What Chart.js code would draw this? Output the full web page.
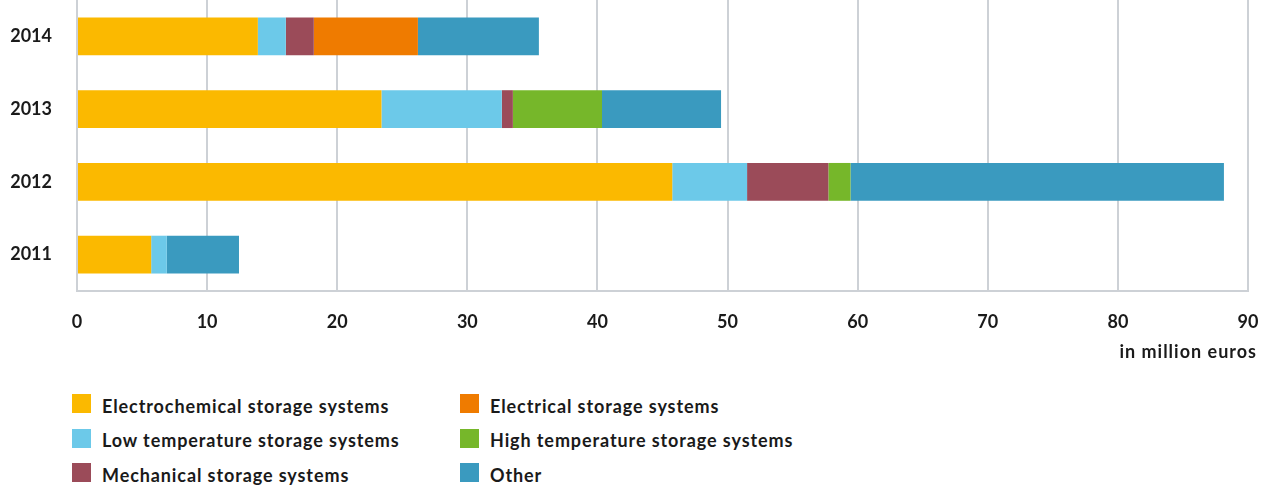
<!DOCTYPE html>
<html>
<head>
<meta charset="utf-8">
<script src="https://cdn.jsdelivr.net/npm/chart.js@4.4.1/dist/chart.umd.min.js"></script>
<style>
  html, body { margin: 0; padding: 0; background: #fff; }
  body { width: 1271px; height: 486px; position: relative; overflow: hidden; font-family: Lato, "Open Sans", sans-serif; color: #1a1a1a; }
  #wrap { position: absolute; left: 0; top: 0; width: 1271px; height: 345px; }
  #unit { position: absolute; right: 14px; top: 340px; font-size: 18px; line-height: 22px; font-weight: 700; letter-spacing: 1px; }
  #legend { position: absolute; left: 72px; top: 394px; display: grid; grid-template-columns: 388px 360px; grid-auto-rows: 19px; row-gap: 15.5px; }
  .item { display: flex; align-items: flex-start; height: 19px; font-size: 18px; line-height: 19px; font-weight: 700; letter-spacing: 0.9px; white-space: nowrap; }
  .item span.tx { position: relative; top: 2.5px; }
  .sw { width: 19px; height: 19px; margin-right: 11px; flex: none; }
</style>
</head>
<body>
<div id="wrap"><canvas id="c"></canvas></div>
<div id="unit">in million euros</div>
<div id="legend"></div>
<script>
// Research funding for energy storage, by year (million euros)
const years = ['2014', '2013', '2012', '2011'];
const electrochemical = [13.9, 23.4, 45.75, 5.7];
const lowTemperature  = [2.15, 9.25, 5.75, 1.2];
const mechanical      = [2.15, 0.85, 6.25, 0];
const electrical      = [8.0, 0, 0, 0];
const highTemperature = [0, 6.85, 1.7, 0];
const other           = [9.3, 9.15, 28.7, 5.55];
const xTicks = [0, 10, 20, 30, 40, 50, 60, 70, 80, 90];

const seriesNames = [
  'Electrochemical storage systems',
  'Low temperature storage systems',
  'Mechanical storage systems',
  'Electrical storage systems',
  'High temperature storage systems',
  'Other'
];
const seriesValues = [electrochemical, lowTemperature, mechanical, electrical, highTemperature, other];
const seriesColors = ['#FBB900', '#6CC9E9', '#9B4B59', '#EF7B00', '#76B72A', '#3A9ABF'];

const datasets = seriesNames.map((name, i) => ({
  label: name,
  data: seriesValues[i],
  backgroundColor: seriesColors[i],
  borderWidth: 0,
  barPercentage: 0.52,
  categoryPercentage: 1.0
}));

const tickFont = { family: 'Lato, "Open Sans", sans-serif', size: 18, weight: 'bold' };

new Chart(document.getElementById('c'), {
  type: 'bar',
  data: { labels: years, datasets },
  options: {
    indexAxis: 'y',
    responsive: true,
    maintainAspectRatio: false,
    animation: false,
    layout: { padding: { left: 0, right: 23, top: 0, bottom: 0 } },
    plugins: { legend: { display: false }, tooltip: { enabled: false } },
    scales: {
      x: {
        stacked: true,
        min: 0,
        max: 90,
        afterBuildTicks: (scale) => { scale.ticks = xTicks.map(v => ({ value: v })); },
        afterFit: (scale) => {
          scale.height = 54;
          scale.paddingLeft = 0;
          scale.paddingRight = 0;
        },
        grid: { color: '#cdd1d6', lineWidth: 2, drawTicks: false },
        border: { color: '#cdd1d6', width: 2 },
        ticks: { color: '#1a1a1a', font: tickFont, padding: 20 }
      },
      y: {
        stacked: true,
        afterFit: (scale) => {
          scale.width = 77;
          scale.paddingTop = 0;
          scale.paddingBottom = 0;
        },
        grid: { display: false, drawTicks: false },
        border: { display: false },
        ticks: { color: '#1a1a1a', font: tickFont, padding: 25 }
      }
    }
  }
});

// Legend in two columns, filled row by row
const order = [0, 3, 1, 4, 2, 5];
const legend = document.getElementById('legend');
order.forEach(i => {
  const item = document.createElement('div');
  item.className = 'item';
  const sw = document.createElement('span');
  sw.className = 'sw';
  sw.style.background = seriesColors[i];
  const tx = document.createElement('span');
  tx.className = 'tx';
  tx.textContent = seriesNames[i];
  item.appendChild(sw);
  item.appendChild(tx);
  legend.appendChild(item);
});
</script>
</body>
</html>
